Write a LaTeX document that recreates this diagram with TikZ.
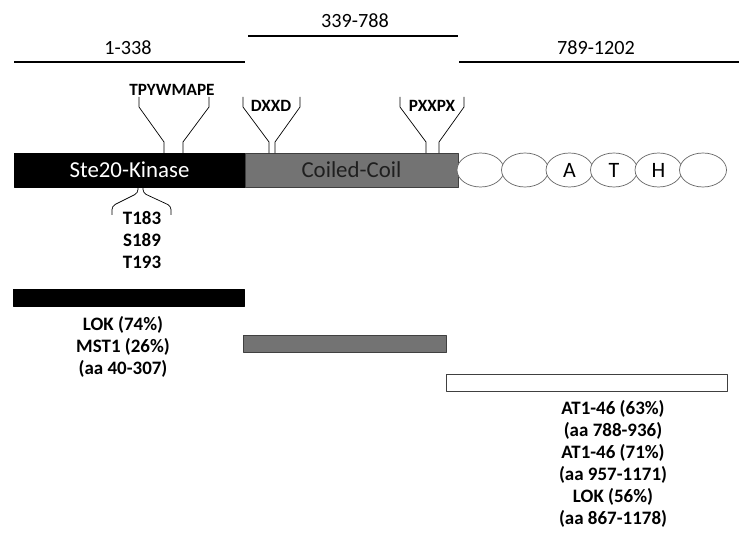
\documentclass[tikz,border=0pt]{standalone}
\usepackage{fontspec}
\setmainfont{Carlito}
\usetikzlibrary{positioning,shapes.geometric}

\tikzset{
  span/.style={line width=1.6pt},
  spanlbl/.style={font=\fontsize{11.5}{13}\selectfont},
  motif/.style={font=\bfseries\fontsize{9.8}{11}\selectfont, inner sep=1pt},
  hom/.style={font=\bfseries\fontsize{10.8}{12.5}\selectfont, align=center},
  dom/.style={minimum height=0.68cm, inner sep=0pt, outer sep=0pt, font=\fontsize{13}{15}\selectfont},
  rep/.style={ellipse, draw=black!60, fill=white, minimum width=0.94cm, minimum height=0.68cm, inner sep=0pt, font=\fontsize{12.5}{14}\selectfont},
  bar/.style={minimum height=0.34cm, inner sep=0pt, outer sep=0pt}
}

\begin{document}
\begin{tikzpicture}[x=0.02cm, y=-0.02cm, line join=round]
  \useasboundingbox (0,0) rectangle (750,547);

  % ranges
  \node[spanlbl] (r1) at (128,48) {1-338};
  \node[spanlbl] (r2) at (355,21) {339-788};
  \node[spanlbl] (r3) at (596,48) {789-1202};
  \draw[span] (14,62) -- (245,62);
  \draw[span] (248,36) -- (458,36);
  \draw[span] (459,62) -- (739,62);

  % domains
  \node[dom, draw=black, fill=black, text=white, minimum width=4.62cm] (kin) at (129.5,170) {Ste20-Kinase};
  \node[dom, draw=black!75, fill=black!55, text=black!88, minimum width=4.26cm, right=0pt of kin] (coil) {Coiled-Coil};
  \foreach \i/\t in {1/,2/,3/A,4/T,5/H,6/}
    \node[rep] (e\i) at ({480.5+44.5*(\i-1)},170) {\t};

  % motifs
  \node[motif] (tpy) at (172,90) {TPYWMAPE};
  \draw (139,97) -- (139,107) -- (164,142) -- (164,0 |- kin.north);
  \draw (209,97) -- (209,107) -- (183,142) -- (183,0 |- kin.north);
  \node[motif] (dxxd) at (271,106) {DXXD};
  \draw (243,97) -- (243,107) -- (269,142) -- (269,0 |- coil.north);
  \draw (300,97) -- (300,107) -- (275,142) -- (275,0 |- coil.north);
  \node[motif] (pxxpx) at (432,106) {PXXPX};
  \draw (400,97) -- (400,107) -- (426,142) -- (426,0 |- coil.north);
  \draw (464,97) -- (464,107) -- (439,142) -- (439,0 |- coil.north);

  % phosphosites
  \draw[rounded corners=2pt] (138,0 |- kin.south) -- (138,193) -- (112,206) -- (112,215);
  \draw[rounded corners=2pt] (143,0 |- kin.south) -- (143,193) -- (171,206) -- (171,215);
  \node[hom] (sites) at (142,240) {T183\\S189\\T193};

  % homology regions
  \node[bar, draw=black, fill=black, minimum width=4.62cm] (hkin) at (129,297.5) {};
  \node[hom] (lkin) at (123,347) {LOK (74\%)\\MST1 (26\%)\\(aa 40-307)};
  \node[bar, draw=black!75, fill=black!55, minimum width=4.06cm] (hcoil) at (344.5,343.5) {};
  \node[bar, draw=black!75, fill=white, minimum width=5.62cm] (hat) at (586.5,382.5) {};
  \node[hom] (lat) at (613,464) {AT1-46 (63\%)\\(aa 788-936)\\AT1-46 (71\%)\\(aa 957-1171)\\LOK (56\%)\\(aa 867-1178)};
\end{tikzpicture}
\end{document}
